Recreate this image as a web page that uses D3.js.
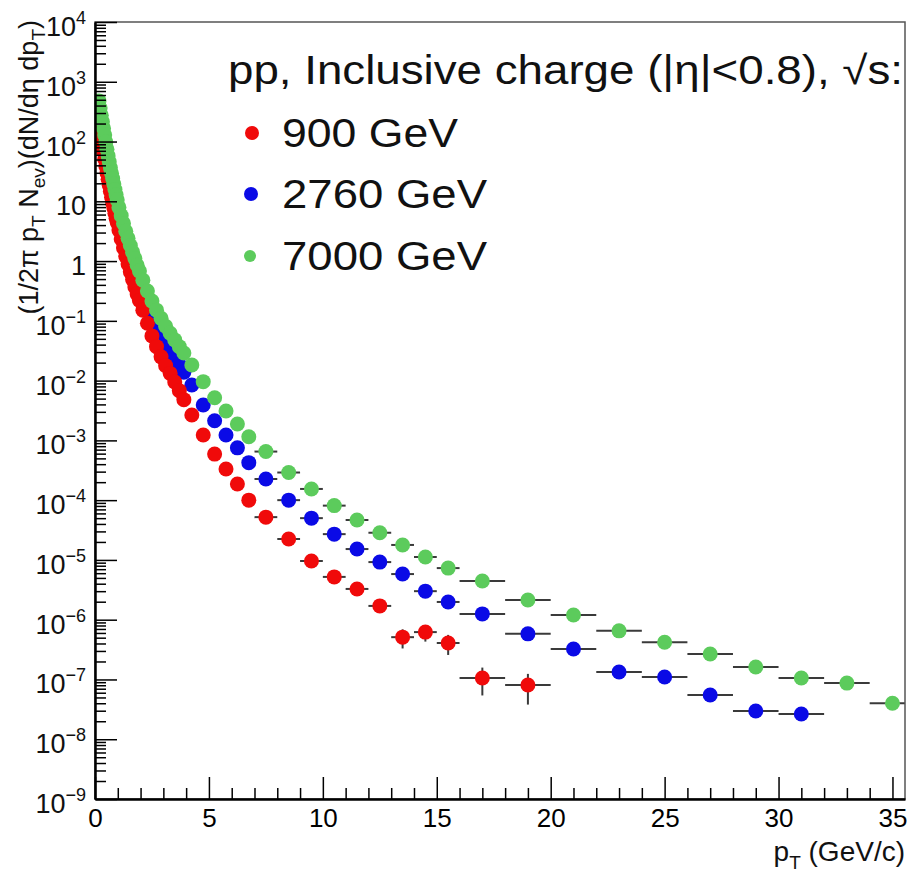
<!DOCTYPE html>
<html>
<head>
<meta charset="utf-8">
<script src="https://cdn.jsdelivr.net/npm/d3@7"></script>
<style>
  body { margin: 0; background: #fff; }
  svg { display: block; font-family: "Liberation Sans", Arial, Helvetica, sans-serif; }
</style>
</head>
<body>
<div class="chart"></div>
<script>
// pT bins (GeV/c): centres and half widths
const ptCenter = [0.175,0.225,0.275,0.325,0.375,0.425,0.475,0.525,0.575,0.625,0.675,0.725,0.775,0.825,0.875,0.925,0.975,
  1.05,1.15,1.25,1.35,1.45,1.55,1.65,1.75,1.85,1.95,
  2.1,2.3,2.5,2.7,2.9,3.1,3.3,3.5,3.7,3.9,
  4.25,4.75,5.25,5.75,6.25,6.75,
  7.5,8.5,9.5,10.5,11.5,12.5,13.5,14.5,15.5,
  17,19,21,23,25,27,29,31,33,35];
const ptHalf = [0.025,0.025,0.025,0.025,0.025,0.025,0.025,0.025,0.025,0.025,0.025,0.025,0.025,0.025,0.025,0.025,0.025,
  0.05,0.05,0.05,0.05,0.05,0.05,0.05,0.05,0.05,0.05,
  0.1,0.1,0.1,0.1,0.1,0.1,0.1,0.1,0.1,0.1,
  0.25,0.25,0.25,0.25,0.25,0.25,
  0.5,0.5,0.5,0.5,0.5,0.5,0.5,0.5,0.5,
  1,1,1,1,1,1,1,1,1,1];

// yields
const yield900 = [214,158,117,89,68,51,39,30,23.4,18.6,14.8,11.7,9.5,7.8,6.3,5.2,4.4,
  3.3,2.34,1.66,1.2,0.89,0.66,0.49,0.37,0.28,0.22,
  0.151,0.091,0.056,0.037,0.025,0.0178,0.0132,0.0095,0.0068,0.0048,
  2.66e-3,1.23e-3,5.9e-4,3.32e-4,1.86e-4,1.0e-4,
  5.2e-5,2.24e-5,9.6e-6,5.2e-6,3.27e-6,1.7e-6,5.1e-7,6.2e-7,4.07e-7,
  1.06e-7,8.1e-8];
const yield2760 = [339,251,191,145,112,87,66,51,40,31.6,25.1,20.4,16.6,13.5,11.0,9.1,7.6,
  5.75,4.07,2.95,2.19,1.62,1.23,0.93,0.72,0.56,0.45,
  0.316,0.204,0.135,0.093,0.066,0.048,0.035,0.025,0.0186,0.0138,
  8.45e-3,3.9e-3,2.13e-3,1.23e-3,7.5e-4,4.24e-4,
  2.26e-4,1.0e-4,5.0e-5,2.7e-5,1.52e-5,9.2e-6,5.8e-6,3.0e-6,1.98e-6,
  1.25e-6,5.8e-7,3.23e-7,1.33e-7,1.1e-7,5.5e-8,2.97e-8,2.64e-8];
const yield7000 = [479,363,275,214,166,129,98,74,57.5,45.7,36.3,29.5,24.0,19.5,15.8,12.9,10.5,
  7.9,5.75,4.27,3.16,2.4,1.82,1.41,1.1,0.85,0.68,
  0.48,0.316,0.214,0.151,0.11,0.081,0.062,0.048,0.037,0.029,
  0.0182,9.6e-3,5.18e-3,3.1e-3,1.88e-3,1.15e-3,
  6.5e-4,2.9e-4,1.54e-4,8.1e-5,4.66e-5,2.85e-5,1.78e-5,1.12e-5,7.3e-6,
  4.44e-6,2.14e-6,1.2e-6,6.5e-7,4.2e-7,2.67e-7,1.62e-7,1.06e-7,8.7e-8,4.0e-8];

// statistical errors visible beyond the markers (900 GeV, high pT)
const err900 = [0,0,0,0,0,0,0,0,0,0,0,0,0,0,0,0,0,
  0,0,0,0,0,0,0,0,0,0,
  0,0,0,0,0,0,0,0,0,0,
  0,0,0,0,0,0,
  0,0,0,0,0,2.5e-7,1.8e-7,1.9e-7,1.5e-7,
  5.2e-8,4.3e-8];

const energies = ["900 GeV", "2760 GeV", "7000 GeV"];
const colors = ["#f00a0a", "#0a0ae6", "#5ccb5c"];
const xTicks = [0, 5, 10, 15, 20, 25, 30, 35];
const yExponents = [4, 3, 2, 1, 0, -1, -2, -3, -4, -5, -6, -7, -8, -9];

const series = [
  { name: energies[0], color: colors[0], values: yield900, errs: err900 },
  { name: energies[1], color: colors[1], values: yield2760, errs: [] },
  { name: energies[2], color: colors[2], values: yield7000, errs: [] }
];

const width = 912;
const height = 873;
const margin = { top: 22, right: 7, bottom: 74, left: 95 };

const svg = d3.select('.chart')
  .append('svg')
  .attr('width', width)
  .attr('height', height);

const x = d3.scaleLinear()
  .domain([0, 35.55])
  .range([margin.left, width - margin.right]);

const y = d3.scaleLog()
  .domain([1e-9, 1e4])
  .range([height - margin.bottom, margin.top]);

svg.append("clipPath").attr("id", "frame")
  .append("rect")
  .attr("x", margin.left).attr("y", margin.top)
  .attr("width", width - margin.left - margin.right)
  .attr("height", height - margin.top - margin.bottom);

// data: draw 2760 first, then 900, then 7000 on top
const plot = svg.append("g").attr("clip-path", "url(#frame)");
[series[1], series[0], series[2]].forEach(s => {
  const pts = s.values.map((v, i) => ({ pt: ptCenter[i], hw: ptHalf[i], v: v, e: s.errs[i] || 0 }));
  const g = plot.append("g");
  g.selectAll("line.hbar")
    .data(pts.filter(d => x(d.pt + d.hw) - x(d.pt) > 8))
    .join("line")
    .attr("x1", d => x(d.pt - d.hw))
    .attr("x2", d => x(d.pt + d.hw))
    .attr("y1", d => y(d.v))
    .attr("y2", d => y(d.v))
    .attr("stroke", "#3a3a3a")
    .attr("stroke-width", 2);
  g.selectAll("line.vbar")
    .data(pts.filter(d => d.e > 0))
    .join("line")
    .attr("x1", d => x(d.pt))
    .attr("x2", d => x(d.pt))
    .attr("y1", d => y(d.v + d.e))
    .attr("y2", d => y(Math.max(d.v - d.e, 1e-9)))
    .attr("stroke", "#3a3a3a")
    .attr("stroke-width", 2);
  g.selectAll("circle")
    .data(pts)
    .join("circle")
    .attr("cx", d => x(d.pt))
    .attr("cy", d => y(d.v))
    .attr("r", 7.5)
    .attr("fill", s.color);
});

// frame
svg.append("rect")
  .attr("x", margin.left).attr("y", margin.top)
  .attr("width", width - margin.left - margin.right)
  .attr("height", height - margin.top - margin.bottom)
  .attr("fill", "none")
  .attr("stroke", "#555")
  .attr("stroke-width", 1.5);

// x axis
const xMinor = d3.range(0, 36).filter(v => v % 5 !== 0);
const xAxis = g => {
  g.attr("transform", `translate(0,${height - margin.bottom})`)
    .call(d3.axisBottom(x).tickValues(xTicks).tickSize(-22).tickSizeOuter(0).tickPadding(10).tickFormat(d3.format("d")))
    .call(g => g.select(".domain").attr("stroke", "#000").attr("stroke-width", 2.5))
    .call(g => g.selectAll(".tick line").attr("stroke-width", 1.5))
    .attr("font-size", "26px")
    .attr("font-family", null);
};
svg.append("g").call(xAxis);
svg.append("g")
  .attr("transform", `translate(0,${height - margin.bottom})`)
  .call(d3.axisBottom(x).tickValues(xMinor).tickSize(-11).tickFormat(""))
  .call(g => g.select(".domain").remove())
  .call(g => g.selectAll(".tick line").attr("stroke-width", 1.5));

// y axis
const yMinor = [];
yExponents.slice(1).forEach(e => d3.range(2, 10).forEach(m => yMinor.push(m * Math.pow(10, e))));
svg.append("g")
  .attr("transform", `translate(${margin.left},0)`)
  .call(d3.axisLeft(y).tickValues(yExponents.map(e => Math.pow(10, e))).tickSize(-22).tickSizeOuter(0).tickFormat(""))
  .call(g => g.select(".domain").attr("stroke", "#000").attr("stroke-width", 2.5))
  .call(g => g.selectAll(".tick line").attr("stroke-width", 1.5));
svg.append("g")
  .attr("transform", `translate(${margin.left},0)`)
  .call(d3.axisLeft(y).tickValues(yMinor).tickSize(-11).tickFormat(""))
  .call(g => g.select(".domain").remove())
  .call(g => g.selectAll(".tick line").attr("stroke-width", 1.5));

const yLabels = svg.append("g")
  .attr("font-size", "27px")
  .attr("text-anchor", "end")
  .attr("fill", "#111");
yExponents.forEach(e => {
  const t = yLabels.append("text")
    .attr("x", 86)
    .attr("y", y(Math.pow(10, e)) + 14);
  if (e === 0) t.text("1");
  else if (e === 1) t.text("10");
  else {
    t.append("tspan").text("10");
    t.append("tspan").attr("dy", -12).attr("font-size", "18px").text(e < 0 ? "\u2212" + (-e) : String(e));
  }
});

// axis titles
const yTitle = svg.append("text")
  .attr("transform", "translate(38,20) rotate(-90)")
  .attr("text-anchor", "end")
  .attr("font-size", "27px")
  .attr("fill", "#111");
yTitle.append("tspan").text("(1/2\u03c0 p");
yTitle.append("tspan").attr("dy", 7).attr("font-size", "19px").text("T");
yTitle.append("tspan").attr("dy", -7).text(" N");
yTitle.append("tspan").attr("dy", 7).attr("font-size", "19px").text("ev");
yTitle.append("tspan").attr("dy", -7).text(")(dN/d\u03b7 dp");
yTitle.append("tspan").attr("dy", 7).attr("font-size", "19px").text("T");
yTitle.append("tspan").attr("dy", -7).text(")");

const xTitle = svg.append("text")
  .attr("x", 905)
  .attr("y", 861)
  .attr("text-anchor", "end")
  .attr("font-size", "28px")
  .attr("fill", "#111");
xTitle.append("tspan").text("p");
xTitle.append("tspan").attr("dy", 8).attr("font-size", "19px").text("T");
xTitle.append("tspan").attr("dy", -8).text(" (GeV/c)");

// legend
const legend = svg.append("g").attr("fill", "#111");
legend.append("text")
  .attr("x", 228)
  .attr("y", 84)
  .attr("font-size", "40px")
  .attr("textLength", 675)
  .attr("lengthAdjust", "spacingAndGlyphs")
  .text("pp, Inclusive charge (|\u03b7|<0.8), \u221as:");
const rows = [147, 208, 270];
const entryLen = [176, 205, 205];
energies.forEach((name, i) => {
  legend.append("circle")
    .attr("cx", 252 - i)
    .attr("cy", rows[i] - 14)
    .attr("r", i === 2 ? 6 : 7)
    .attr("fill", colors[i]);
  legend.append("text")
    .attr("x", 282)
    .attr("y", rows[i])
    .attr("font-size", "40px")
    .attr("textLength", entryLen[i])
    .attr("lengthAdjust", "spacingAndGlyphs")
    .text(name);
});
</script>
</body>
</html>
